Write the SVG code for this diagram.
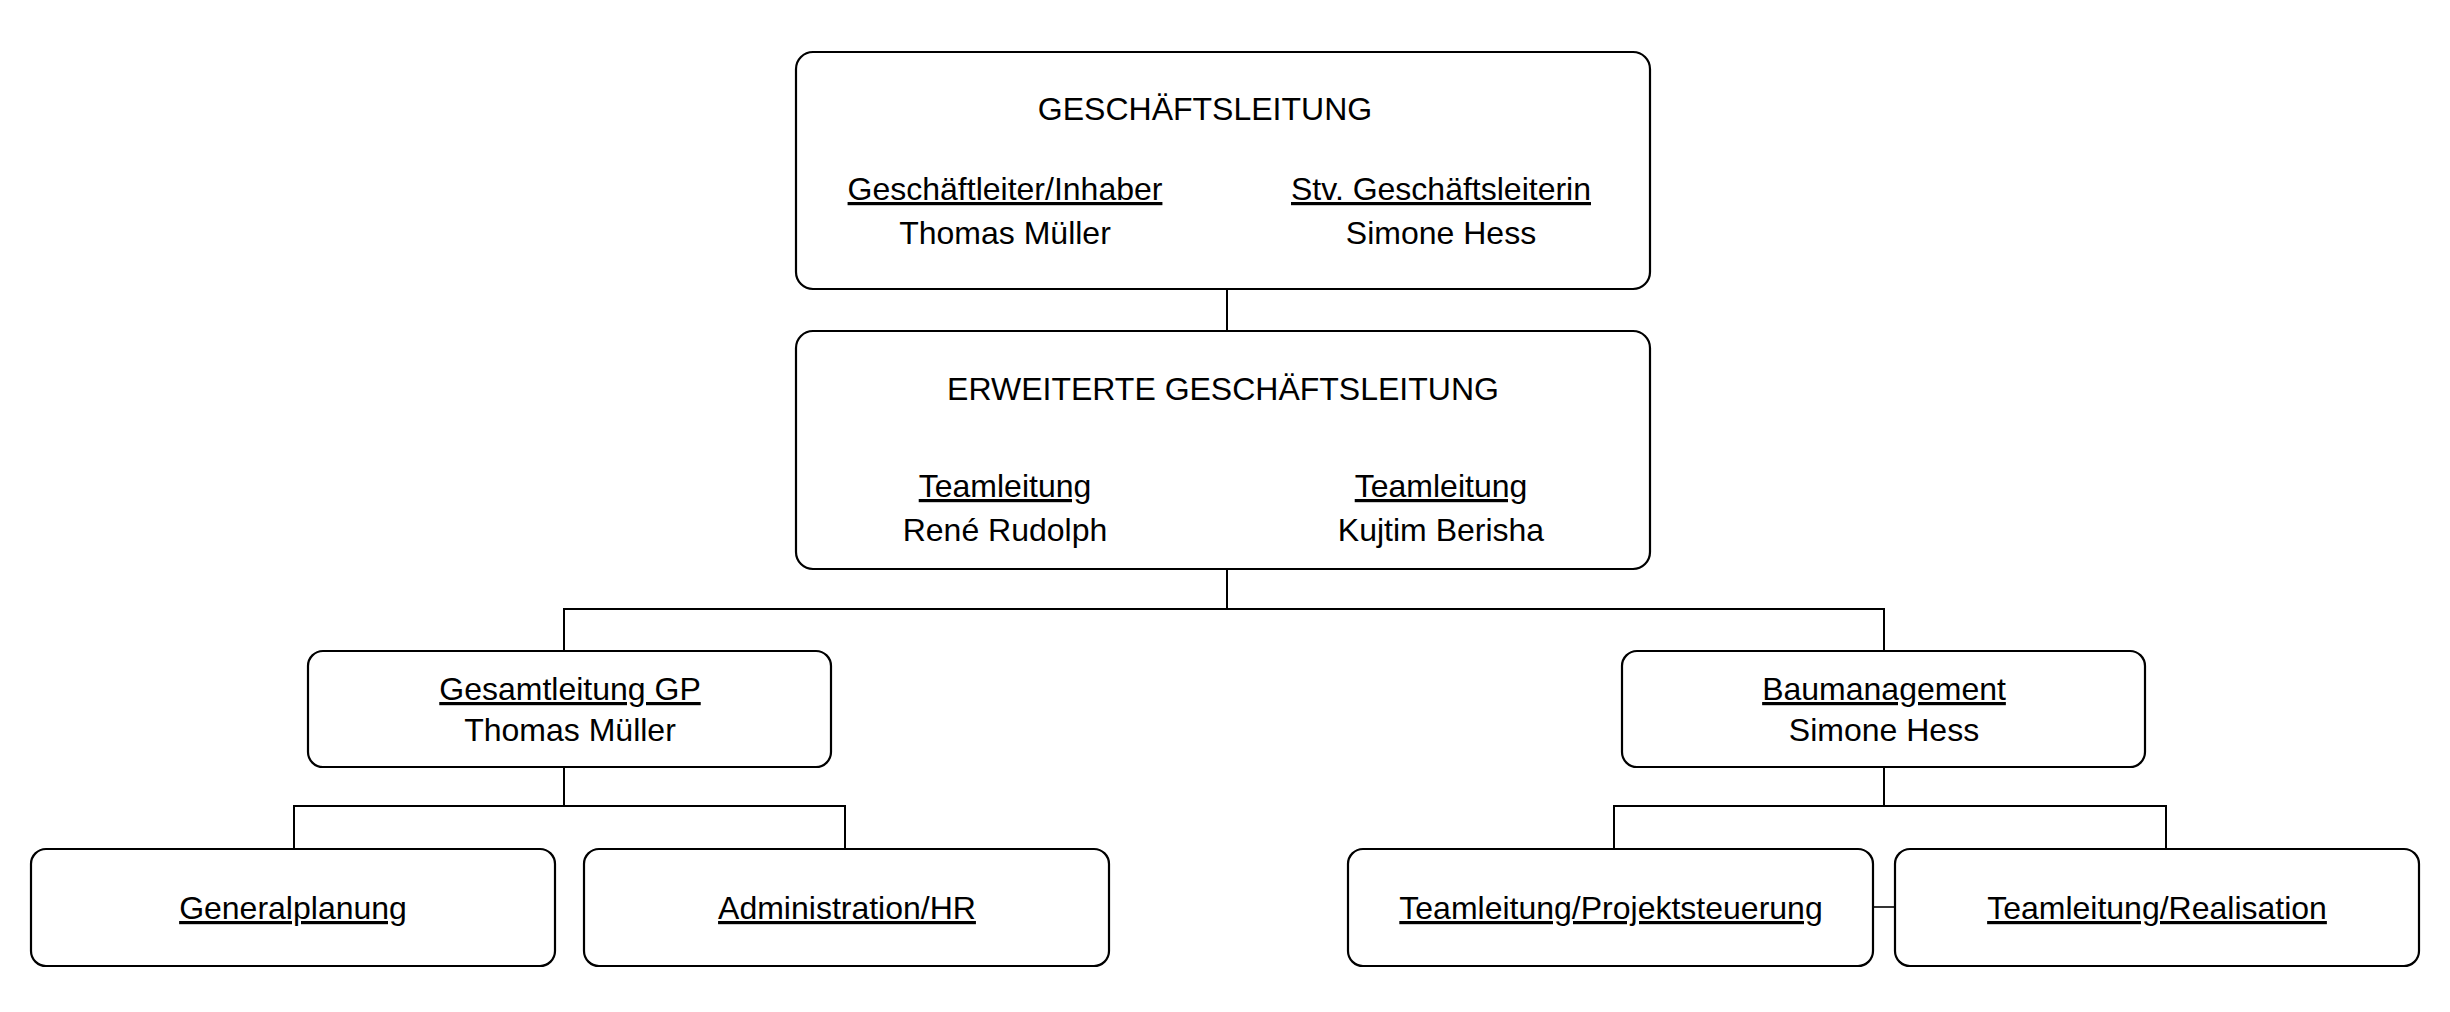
<svg xmlns="http://www.w3.org/2000/svg" width="2450" height="1012" viewBox="0 0 2450 1012">
<style>
.box{fill:#fff;stroke:#000;stroke-width:2.2}
.t{font-family:"Liberation Sans",Arial,sans-serif;font-size:32px;fill:#000;text-anchor:middle}
.u{text-decoration:underline}
.c{fill:none;stroke:#000;stroke-width:2}
</style>
<rect width="2450" height="1012" fill="#fff"/>
<g id="connectors">
<path class="c" d="M1227 289V331"/>
<path class="c" d="M1227 569V609M564 651V609H1884V651"/>
<path class="c" d="M564 767V806M294 849V806H845V849"/>
<path class="c" d="M1884 767V806M1614 849V806H2166V849"/>
<path class="c" d="M1873 907H1895" style="stroke-width:1.6"/>
</g>
<g id="geschaeftsleitung">
<rect class="box" x="796" y="52" width="854" height="237" rx="17"/>
<text class="t" x="1205" y="120">GESCHÄFTSLEITUNG</text>
<text class="t u" x="1005" y="200">Geschäftleiter/Inhaber</text>
<text class="t" x="1005" y="244">Thomas Müller</text>
<text class="t u" x="1441" y="200">Stv. Geschäftsleiterin</text>
<text class="t" x="1441" y="244">Simone Hess</text>
</g>
<g id="erweiterte-geschaeftsleitung">
<rect class="box" x="796" y="331" width="854" height="238" rx="17"/>
<text class="t" x="1223" y="400">ERWEITERTE GESCHÄFTSLEITUNG</text>
<text class="t u" x="1005" y="497">Teamleitung</text>
<text class="t" x="1005" y="541">René Rudolph</text>
<text class="t u" x="1441" y="497">Teamleitung</text>
<text class="t" x="1441" y="541">Kujtim Berisha</text>
</g>
<g id="gesamtleitung-gp">
<rect class="box" x="308" y="651" width="523" height="116" rx="15"/>
<text class="t u" x="570" y="700">Gesamtleitung GP</text>
<text class="t" x="570" y="741">Thomas Müller</text>
</g>
<g id="baumanagement">
<rect class="box" x="1622" y="651" width="523" height="116" rx="15"/>
<text class="t u" x="1884" y="700">Baumanagement</text>
<text class="t" x="1884" y="741">Simone Hess</text>
</g>
<g id="generalplanung">
<rect class="box" x="31" y="849" width="524" height="117" rx="15"/>
<text class="t u" x="293" y="919">Generalplanung</text>
</g>
<g id="administration-hr">
<rect class="box" x="584" y="849" width="525" height="117" rx="15"/>
<text class="t u" x="847" y="919">Administration/HR</text>
</g>
<g id="teamleitung-projektsteuerung">
<rect class="box" x="1348" y="849" width="525" height="117" rx="15"/>
<text class="t u" x="1611" y="919">Teamleitung/Projektsteuerung</text>
</g>
<g id="teamleitung-realisation">
<rect class="box" x="1895" y="849" width="524" height="117" rx="15"/>
<text class="t u" x="2157" y="919">Teamleitung/Realisation</text>
</g>
</svg>
